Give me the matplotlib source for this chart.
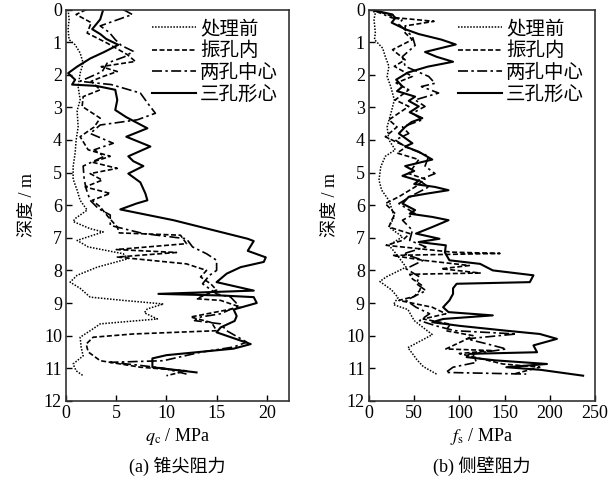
import matplotlib
matplotlib.use('Agg')
import matplotlib.pyplot as plt

plt.rcParams['font.family'] = ['Liberation Serif', 'Noto Sans CJK SC']
plt.rcParams['mathtext.fontset'] = 'stix'
plt.rcParams['font.size'] = 13

labels = ['处理前', '振孔内', '两孔中心', '三孔形心']

# (a) cone resistance q_c (MPa) vs depth (m)
qc_before_d = [0, 0.3, 0.6, 0.92, 1.08, 1.33, 1.64, 1.95, 2.36, 2.77, 3.1, 3.6, 4.0, 4.4, 4.82, 5.2,
               5.54, 5.85, 6.15, 6.41, 6.5, 6.72, 6.82, 7.08, 7.28, 7.49, 7.64, 7.9, 8.15, 8.36, 8.55,
               8.82, 8.92, 9.03, 9.18, 9.3, 9.49, 9.64, 9.79, 10.05, 10.36, 10.62, 10.87, 11.08, 11.23]
qc_before = [0.2, 0.3, 0.2, 0.3, 0.9, 1.4, 1.7, 1.4, 1.2, 1.4, 1.1, 1.2, 1.0, 0.9, 0.7, 0.7,
             1.1, 1.4, 2.1, 0.9, 0.7, 2.4, 3.7, 1.1, 2.2, 5.7, 6.2, 3.1, 1.1, 0.4, 1.4,
             2.4, 5.7, 9.7, 8.1, 7.8, 9.1, 3.4, 2.7, 1.4, 1.5, 1.7, 0.7, 1.0, 1.7]

qc_hole_d = [0, 0.15, 0.4, 0.72, 1.03, 1.38, 1.59, 1.75, 1.9, 2.05, 2.2, 2.46, 2.67, 2.97, 3.33, 3.6,
             3.9, 4.3, 4.5, 4.68, 4.87, 5.03, 5.23, 5.44, 5.64, 5.85, 6.05, 6.36, 6.67, 6.85, 6.92,
             7.18, 7.36, 7.45, 7.59, 7.8, 8.0, 8.2, 8.41, 8.6, 8.87, 8.92, 9.13, 9.43, 9.6, 9.85,
             9.95, 10.05, 10.26, 10.5, 10.77, 10.97, 11.08, 11.23]
qc_hole = [2.0, 1.0, 2.5, 2.1, 4.1, 6.1, 6.9, 3.5, 5.1, 3.7, 2.5, 3.4, 1.7, 1.6, 3.4, 2.8,
           1.4, 2.2, 4.4, 2.6, 5.1, 2.4, 3.6, 1.9, 4.4, 2.6, 3.4, 4.2, 5.1, 5.3, 11.4,
           12.0, 5.0, 11.0, 5.1, 12.0, 14.0, 13.4, 14.4, 15.0, 13.0, 15.4, 17.4, 12.4, 14.5, 15.0,
           6.7, 2.7, 2.0, 2.2, 3.4, 7.4, 12.0, 10.0]

qc_two_d = [0, 0.15, 0.5, 0.7, 0.92, 1.1, 1.28, 1.45, 1.64, 1.9, 2.2, 2.3, 2.56, 2.9, 3.18, 3.38,
            3.54, 3.8, 4.1, 4.3, 4.5, 4.8, 5.2, 5.5, 5.85, 6.1, 6.3, 6.62, 6.87, 7.03, 7.28, 7.49,
            7.69, 8.0, 8.15, 8.41, 8.72, 8.82, 9.08, 9.33, 9.43, 9.54, 9.64, 9.85, 10.2, 10.35,
            10.51, 10.77, 10.82, 10.9, 11.0, 11.18]
qc_two = [5.7, 6.6, 3.4, 4.3, 4.9, 5.5, 6.7, 5.8, 4.1, 3.6, 1.4, 4.5, 7.4, 8.2, 8.9, 7.1,
          3.4, 2.4, 4.7, 2.8, 3.8, 1.7, 1.8, 2.0, 2.4, 3.2, 4.4, 4.4, 7.7, 12.0, 12.6, 14.0,
          15.0, 15.0, 14.3, 13.6, 15.0, 16.4, 17.2, 15.4, 13.4, 12.8, 15.4, 16.0, 18.0, 16.7,
          13.4, 9.7, 4.4, 7.0, 9.7, 12.0]

qc_three_d = [0, 0.3, 0.6, 0.75, 0.9, 1.08, 1.3, 1.5, 1.75, 1.95, 2.15, 2.3, 2.34, 2.46, 2.77, 3.08,
              3.3, 3.64, 3.9, 4.2, 4.5, 4.65, 4.8, 5.03, 5.3, 5.64, 5.85, 5.95, 6.13, 6.46, 7.03,
              7.1, 7.4, 7.6, 7.74, 7.9, 8.1, 8.36, 8.62, 8.67, 8.72, 8.77, 8.82, 9.0, 9.2, 9.4,
              9.55, 9.75, 9.9, 10.26, 10.4, 10.6, 10.7, 10.97, 11.13]
qc_three = [3.7, 3.4, 2.6, 3.4, 4.0, 5.2, 3.8, 2.4, 1.1, 0.2, 0.9, 0.6, 3.0, 4.9, 5.1, 4.9,
            6.0, 8.1, 6.0, 8.4, 6.2, 6.7, 7.7, 6.2, 7.4, 7.9, 8.1, 7.0, 5.4, 10.7, 18.1,
            18.7, 18.1, 19.9, 19.7, 17.4, 16.0, 15.0, 18.7, 14.0, 9.2, 15.5, 18.7, 19.0, 16.7, 17.0,
            16.8, 15.4, 15.0, 18.4, 16.7, 10.0, 8.6, 8.6, 13.0]

# (b) sleeve friction f_s vs depth (m)
fs_before_d = [0, 0.1, 0.3, 0.72, 0.92, 1.18, 1.44, 1.74, 2.05, 2.36, 2.77, 3.1, 3.6, 4.0, 4.3, 4.5,
               4.82, 5.23, 5.54, 5.85, 6.1, 6.36, 6.67, 6.97, 7.23, 7.49, 7.9, 8.2, 8.34, 8.6, 8.83,
               9.05, 9.2, 9.54, 9.97, 10.15, 10.37, 10.55, 10.74, 10.95, 11.2]
fs_before = [2, 7, 5.5, 7, 6, 15, 18, 22, 20, 24, 28, 25, 20, 22, 29, 18,
             13, 11, 14, 22, 25, 28, 22, 37, 22, 30, 41, 19, 12, 25, 32,
             27, 43, 50, 70, 58, 43, 48, 53, 60, 76]

fs_hole_d = [0, 0.25, 0.36, 0.5, 0.72, 0.92, 1.23, 1.54, 1.74, 2.05, 2.25, 2.46, 2.77, 2.97, 3.38,
             3.6, 3.9, 4.1, 4.2, 4.4, 4.6, 4.8, 5.03, 5.2, 5.44, 5.74, 5.95, 6.26, 6.46, 6.67, 6.87,
             7.08, 7.23, 7.44, 7.48, 7.54, 7.69, 7.85, 7.95, 8.08, 8.12, 8.26, 8.45, 8.62, 8.8, 8.92,
             9.13, 9.33, 9.49, 9.65, 9.85, 10.0, 10.15, 10.41, 10.46, 10.55, 10.87, 10.97, 11.18]
fs_hole = [5, 30, 72, 40, 40, 48, 26, 40, 28, 48, 30, 44, 29, 44, 22,
           31, 18, 33, 42, 31, 55, 50, 44, 62, 51, 33, 18, 29, 25, 22, 45,
           37, 19, 92, 145, 26, 60, 111, 80, 123, 45, 48, 58, 56, 50, 33,
           70, 85, 60, 90, 85, 115, 105, 85, 137, 100, 148, 189, 160]

fs_two_d = [0, 0.25, 0.3, 0.45, 0.82, 1.1, 1.44, 1.74, 2.05, 2.26, 2.36, 2.56, 2.77, 2.97, 3.18,
            3.38, 3.6, 3.8, 4.0, 4.2, 4.5, 4.8, 5.03, 5.23, 5.44, 5.7, 5.95, 6.26, 6.46, 6.77,
            7.08, 7.28, 7.49, 7.69, 7.95, 8.2, 8.4, 8.62, 8.92, 9.13, 9.33, 9.54, 9.7, 9.85,
            9.95, 10.1, 10.25, 10.41, 10.56, 10.82, 10.97, 11.13, 11.18]
fs_two = [3, 25, 37, 33, 48, 51, 37, 40, 66, 73, 58, 77, 51, 62, 48,
          59, 37, 44, 29, 40, 66, 62, 73, 55, 66, 48, 33, 51, 37, 48,
          45, 63, 38, 60, 41, 56, 52, 63, 41, 52, 67, 56, 74, 95,
          163, 108, 130, 152, 115, 119, 93, 85, 174]

fs_three_d = [0, 0.15, 0.26, 0.4, 0.6, 0.75, 0.92, 1.07, 1.3, 1.45, 1.6, 1.75, 1.93, 2.15, 2.36,
              2.5, 2.67, 2.8, 2.97, 3.15, 3.33, 3.45, 3.6, 3.8, 4.1, 4.2, 4.36, 4.6, 4.8, 4.95,
              5.1, 5.25, 5.35, 5.44, 5.54, 5.64, 5.74, 5.95, 6.15, 6.26, 6.36, 6.46, 6.67, 6.87,
              7.03, 7.13, 7.23, 7.45, 7.69, 7.8, 8.0, 8.15, 8.36, 8.41, 8.55, 8.72, 8.92, 9.13,
              9.28, 9.38, 9.49, 9.59, 9.7, 9.85, 9.95, 10.1, 10.3, 10.51, 10.56, 10.66, 10.76,
              10.87, 10.97, 11.05, 11.23]
fs_three = [2, 26, 29, 25, 40, 55, 80, 96, 62, 75, 93, 65, 43, 30, 37,
            31, 51, 44, 55, 45, 59, 47, 40, 33, 48, 40, 55, 70, 40, 50,
            37, 55, 50, 73, 88, 65, 44, 37, 51, 45, 70, 88, 70, 52,
            78, 55, 85, 84, 89, 123, 137, 182, 178, 97, 93, 93, 89, 82,
            88, 137, 82, 70, 100, 152, 189, 208, 182, 186, 111, 108, 140,
            197, 152, 190, 237]

styles = [dict(ls=(0, (1, 1)), lw=1.1),
          dict(ls=(0, (3, 1.5)), lw=1.2),
          dict(ls=(0, (6, 2, 1.5, 2)), lw=1.2),
          dict(ls='-', lw=1.5)]

fig = plt.figure(figsize=(6.12, 4.8), dpi=100)
ax1 = fig.add_axes([0.108, 0.165, 0.364, 0.815])
ax2 = fig.add_axes([0.603, 0.165, 0.369, 0.815])

panels = [
    (ax1, [(qc_before, qc_before_d), (qc_hole, qc_hole_d), (qc_two, qc_two_d), (qc_three, qc_three_d)],
     (0, 22.2), [0, 5, 10, 15, 20], r'$q_\mathrm{c}$ / MPa', '(a) 锥尖阻力'),
    (ax2, [(fs_before, fs_before_d), (fs_hole, fs_hole_d), (fs_two, fs_two_d), (fs_three, fs_three_d)],
     (0, 250), [0, 50, 100, 150, 200, 250], r'$f_\mathrm{s}$ / MPa', '(b) 侧壁阻力'),
]

for ax, series, xlim, xticks, xlabel, caption in panels:
    for (x, d), st, lab in zip(series, styles, labels):
        ax.plot(x, d, color='black', label=lab, **st)
    ax.set_xlim(*xlim)
    ax.set_ylim(12, 0)
    ax.set_xticks(xticks)
    ax.set_yticks(range(0, 13))
    ax.tick_params(direction='in', length=4, width=1, top=False, right=False, labelsize=13, pad=3)
    for sp in ax.spines.values():
        sp.set_linewidth(1.2)
        sp.set_color('#333333')
    ax.set_ylabel('深度 / m', fontsize=13, labelpad=6)
    ax.set_xlabel(xlabel, fontsize=13, labelpad=3)
    ax.legend(loc='upper right', frameon=False, fontsize=14, handlelength=2.3,
              handletextpad=0.2, labelspacing=0.18, borderaxespad=0.15)
    pos = ax.get_position()
    fig.text((pos.x0 + pos.x1) / 2, 0.028, caption, ha='center', va='center', fontsize=13)

fig.savefig('out.png', dpi=100)
